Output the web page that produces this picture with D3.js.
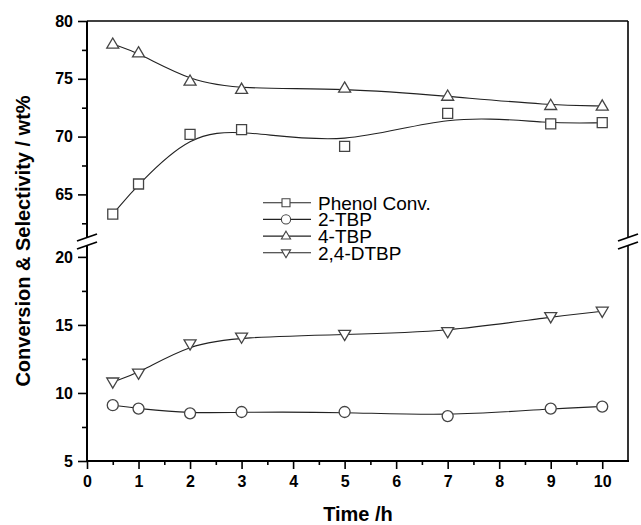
<!DOCTYPE html>
<html>
<head>
<meta charset="utf-8">
<script src="https://cdn.jsdelivr.net/npm/d3@7"></script>
<style>
  html, body { margin: 0; padding: 0; background: #fff; }
  svg { display: block; }
  text { font-family: "Liberation Sans", Arial, sans-serif; }
</style>
</head>
<body>
<svg id="chart" width="641" height="525"></svg>
<script>
// ---- data ----
const times = [0.5, 1, 2, 3, 5, 7, 9, 10];
const phenolConv = [63.3, 65.9, 70.2, 70.6, 69.15, 72.0, 71.1, 71.2];
const tbp2 = [9.1, 8.85, 8.5, 8.6, 8.6, 8.3, 8.85, 9.0];
const tbp4 = [78.0, 77.25, 74.8, 74.1, 74.2, 73.5, 72.7, 72.65];
const dtbp24 = [10.8, 11.45, 13.6, 14.1, 14.3, 14.5, 15.6, 16.0];
const seriesNames = ["Phenol Conv.", "2-TBP", "4-TBP", "2,4-DTBP"];
const xTicks = [0,1,2,3,4,5,6,7,8,9,10];
const xMinor = [0.5,1.5,2.5,3.5,4.5,5.5,6.5,7.5,8.5,9.5];
const yUpperTicks = [65, 70, 75, 80];
const yUpperMinor = [62.5, 67.5, 72.5, 77.5];
const yLowerTicks = [5, 10, 15, 20];
const yLowerMinor = [7.5, 12.5, 17.5];
const xTitle = "Time /h";
const yTitle = "Conversion & Selectivity / wt%";

// ---- layout ----
const svg = d3.select("#chart");
const L = 87, R = 628, T = 21, B = 461;
const upTop = T, upBot = 236, loTop = 246, loBot = B;

const x = d3.scaleLinear().domain([0, 10.5]).range([L, R]);
const yU = d3.scaleLinear().domain([61.4, 80]).range([upBot, upTop]);
const yL = d3.scaleLinear().domain([5, 20.8]).range([loBot, loTop]);

const axisColor = "#000";

// frame lines
const g = svg.append("g");
g.append("line").attr("x1", L).attr("x2", R).attr("y1", T).attr("y2", T)
  .attr("stroke", axisColor).attr("stroke-width", 1.6);
// right side
g.append("line").attr("x1", R).attr("x2", R).attr("y1", T).attr("y2", 238).attr("stroke", axisColor).attr("stroke-width", 1.6);
g.append("line").attr("x1", R).attr("x2", R).attr("y1", 245).attr("y2", B).attr("stroke", axisColor).attr("stroke-width", 1.6);

function styleAxis(sel) {
  sel.select(".domain").remove();
  sel.selectAll(".tick line").attr("stroke", axisColor).attr("stroke-width", 1.6);
  sel.selectAll(".tick text").attr("fill", "#000").attr("font-size", 16).attr("font-weight", "bold");
}

// x axis
const xAx = svg.append("g").attr("transform", `translate(0,${B})`)
  .call(d3.axisBottom(x).tickValues(xTicks).tickSize(8).tickPadding(7).tickFormat(d3.format("d")));
styleAxis(xAx);
const xAxMin = svg.append("g").attr("transform", `translate(0,${B})`)
  .call(d3.axisBottom(x).tickValues(xMinor).tickSize(4).tickFormat(""));
styleAxis(xAxMin);
svg.append("line").attr("x1", L - 1).attr("x2", R + 1).attr("y1", B).attr("y2", B)
  .attr("stroke", axisColor).attr("stroke-width", 2);

// y axes
const yUAx = svg.append("g").attr("transform", `translate(${L},0)`)
  .call(d3.axisLeft(yU).tickValues(yUpperTicks).tickSize(9).tickPadding(5).tickFormat(d3.format("d")));
styleAxis(yUAx);
const yUAxMin = svg.append("g").attr("transform", `translate(${L},0)`)
  .call(d3.axisLeft(yU).tickValues(yUpperMinor).tickSize(5).tickFormat(""));
styleAxis(yUAxMin);
const yLAx = svg.append("g").attr("transform", `translate(${L},0)`)
  .call(d3.axisLeft(yL).tickValues(yLowerTicks).tickSize(9).tickPadding(5).tickFormat(d3.format("d")));
styleAxis(yLAx);
const yLAxMin = svg.append("g").attr("transform", `translate(${L},0)`)
  .call(d3.axisLeft(yL).tickValues(yLowerMinor).tickSize(5).tickFormat(""));
styleAxis(yLAxMin);
svg.append("line").attr("x1", L).attr("x2", L).attr("y1", T).attr("y2", 238)
  .attr("stroke", axisColor).attr("stroke-width", 2);
svg.append("line").attr("x1", L).attr("x2", L).attr("y1", 245).attr("y2", B + 1)
  .attr("stroke", axisColor).attr("stroke-width", 2);

// break marks
function breakMarks(cx) {
  const w = 10;
  [[241, 234], [249, 242]].forEach(([yl, yr]) => {
    svg.append("line").attr("x1", cx - w).attr("x2", cx + w).attr("y1", yl).attr("y2", yr)
      .attr("stroke", "#000").attr("stroke-width", 1.8);
  });
}
breakMarks(L);
breakMarks(R);

// ---- series ----
const lineColor = "#222";
const markColor = "#444";
const seriesDefs = [
  { name: seriesNames[0], vals: phenolConv, y: yU, shape: "square" },
  { name: seriesNames[1], vals: tbp2, y: yL, shape: "circle" },
  { name: seriesNames[2], vals: tbp4, y: yU, shape: "triangle" },
  { name: seriesNames[3], vals: dtbp24, y: yL, shape: "triangleDown" },
];

function markerPath(shape, s) {
  // s = half-size
  if (shape === "square") return `M${-s},${-s}H${s}V${s}H${-s}Z`;
  if (shape === "circle") return `M${s},0A${s},${s} 0 1,1 ${-s},0A${s},${s} 0 1,1 ${s},0Z`;
  const h = s * 0.85;
  if (shape === "triangle") return `M0,${-h - 1}L${s},${h - 1}L${-s},${h - 1}Z`;
  return `M0,${h + 1}L${s},${-h + 1}L${-s},${-h + 1}Z`;
}
const markerSize = { square: 5, circle: 5.5, triangle: 6, triangleDown: 6 };

seriesDefs.forEach(sd => {
  const pts = times.map((t, i) => [t, sd.vals[i]]);
  const line = d3.line().x(d => x(d[0])).y(d => sd.y(d[1])).curve(d3.curveBasis);
  svg.append("path").attr("d", line(pts)).attr("fill", "none")
    .attr("stroke", lineColor).attr("stroke-width", 1.1);
});
seriesDefs.forEach(sd => {
  const pts = times.map((t, i) => [t, sd.vals[i]]);
  svg.append("g").selectAll("path").data(pts).join("path")
    .attr("transform", d => `translate(${x(d[0])},${sd.y(d[1])})`)
    .attr("d", markerPath(sd.shape, markerSize[sd.shape]))
    .attr("fill", "#fff").attr("stroke", markColor).attr("stroke-width", 1.3);
});

// ---- legend ----
const lgX0 = 263, lgX1 = 311, lgMk = 286, lgText = 318, lgY0 = 202.7, lgDy = 16.7;
seriesDefs.forEach((sd, i) => {
  const yy = lgY0 + i * lgDy;
  svg.append("line").attr("x1", lgX0).attr("x2", lgX1).attr("y1", yy).attr("y2", yy)
    .attr("stroke", lineColor).attr("stroke-width", 1.1);
  svg.append("path").attr("transform", `translate(${lgMk},${yy})`)
    .attr("d", markerPath(sd.shape, sd.shape === "square" ? 4 : 4.6))
    .attr("fill", "#fff").attr("stroke", markColor).attr("stroke-width", 1.1);
  svg.append("text").attr("x", lgText).attr("y", yy).attr("dy", "0.36em")
    .attr("font-size", 19).attr("fill", "#000").text(sd.name);
});

// ---- titles ----
svg.append("text").attr("x", 358).attr("y", 521).attr("text-anchor", "middle")
  .attr("font-size", 20).attr("font-weight", "bold").text(xTitle);
svg.append("text").attr("transform", "translate(30,241) rotate(-90)").attr("text-anchor", "middle")
  .attr("font-size", 20).attr("font-weight", "bold").text(yTitle);
</script>
</body>
</html>
